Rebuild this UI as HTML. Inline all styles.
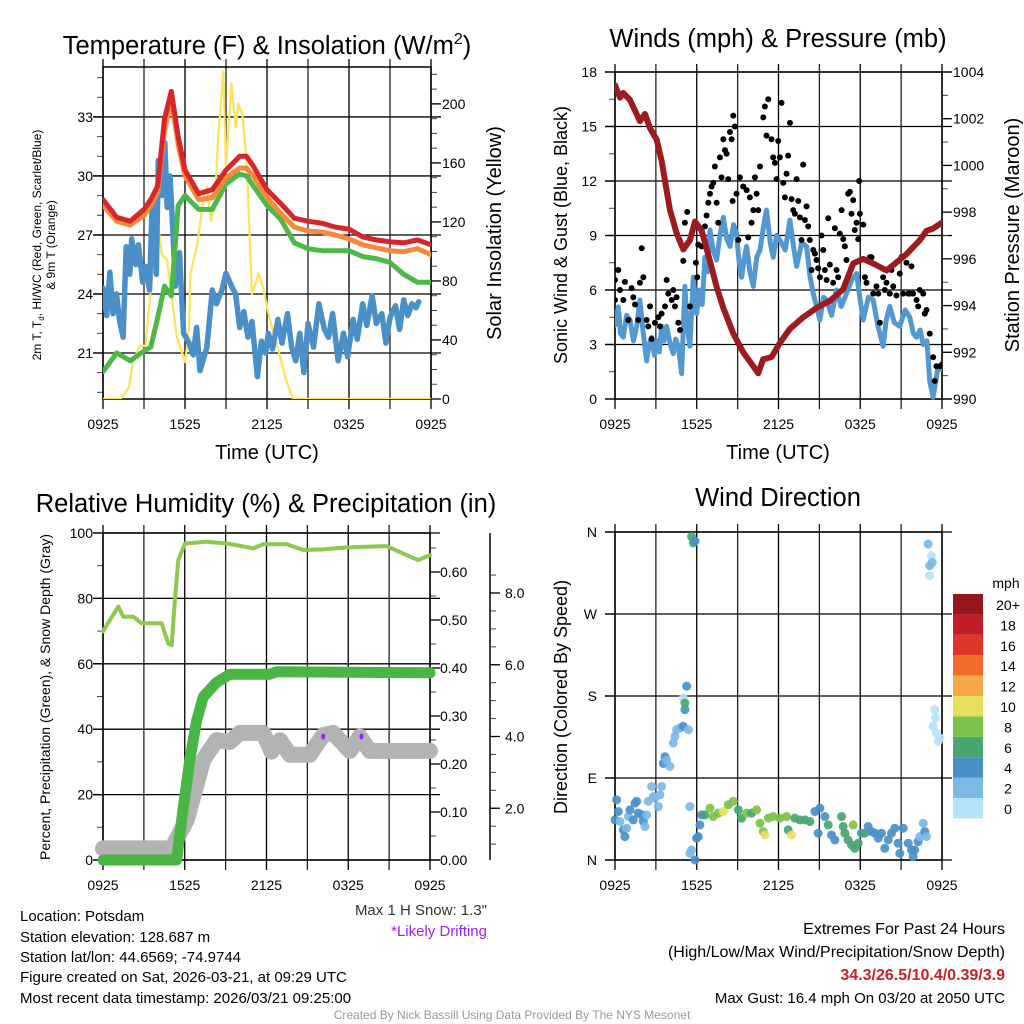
<!DOCTYPE html>
<html><head><meta charset="utf-8">
<style>
html,body{margin:0;padding:0;background:#fff;}
svg{display:block;font-family:"Liberation Sans",Arial,sans-serif;}
</style></head>
<body>
<svg id="chart" width="1024" height="1024" viewBox="0 0 1024 1024">
<g id="g1"></g>
<g id="g2"></g>
<g id="g3"></g>
<g id="g4"></g>
<g font-size="25.5" text-anchor="middle" fill="#000">
<text x="267" y="54">Temperature (F) &amp; Insolation (W/m<tspan font-size="16" dy="-10">2</tspan><tspan dy="10">)</tspan></text>
<text x="778" y="47">Winds (mph) &amp; Pressure (mb)</text>
<text x="266" y="512">Relative Humidity (%) &amp; Precipitation (in)</text>
<text x="778" y="506">Wind Direction</text>
</g>
<g font-size="20" text-anchor="middle">
<text x="267" y="459">Time (UTC)</text>
<text x="778" y="459">Time (UTC)</text>
<text transform="translate(501,233) rotate(-90)">Solar Insolation (Yellow)</text>
<text transform="translate(1019,235) rotate(-90)">Station Pressure (Maroon)</text>
<text transform="translate(567,235) rotate(-90)" font-size="18">Sonic Wind &amp; Gust (Blue, Black)</text>
<text transform="translate(567,697) rotate(-90)" font-size="18">Direction (Colored By Speed)</text>
<text transform="translate(50,697) rotate(-90)" font-size="14">Percent, Precipitation (Green), &amp; Snow Depth (Gray)</text>
<text transform="translate(41,245) rotate(-90)" font-size="12">2m T, T<tspan font-size="8" dy="3">d</tspan><tspan dy="-3">, HI/WC (Red, Green, Scarlet/Blue)</tspan></text>
<text transform="translate(55,245) rotate(-90)" font-size="12">&amp; 9m T (Orange)</text>
</g>
<g font-size="15" fill="#000">
<text x="20" y="921">Location: Potsdam</text>
<text x="20" y="942">Station elevation: 128.687 m</text>
<text x="20" y="962">Station lat/lon: 44.6569; -74.9744</text>
<text x="20" y="982">Figure created on Sat, 2026-03-21, at 09:29 UTC</text>
<text x="20" y="1003">Most recent data timestamp: 2026/03/21 09:25:00</text>
</g>
<text x="487" y="915" font-size="15" text-anchor="end" fill="#333">Max 1 H Snow: 1.3"</text>
<text x="487" y="936" font-size="15" text-anchor="end" fill="#a020f0">*Likely Drifting</text>
<g font-size="16" text-anchor="end">
<text x="1005" y="934">Extremes For Past 24 Hours</text>
<text x="1005" y="957">(High/Low/Max Wind/Precipitation/Snow Depth)</text>
<text x="1005" y="980" fill="#cc1f26" font-weight="bold">34.3/26.5/10.4/0.39/3.9</text>
<text x="1005" y="1003" font-size="15">Max Gust: 16.4 mph On 03/20 at 2050 UTC</text>
</g>
<text x="512" y="1019" font-size="12" text-anchor="middle" fill="#999">Created By Nick Bassill Using Data Provided By The NYS Mesonet</text>
</svg>
<script>
// ---- Data: panel 1 (temperature) ----
const T1 = [0,1,2,3,3.5,4,4.5,5,5.5,6,7,8,9,10,10.5,11,12,13,14,15,16,17,18,19,20,21,22,23,24];
const redT = [28.8,27.9,27.7,28.3,28.8,29.5,32.9,34.3,32.0,30.3,29.1,29.3,30.3,31.0,31.0,30.5,29.3,28.6,27.85,27.7,27.6,27.4,27.3,26.9,26.75,26.65,26.6,26.75,26.5];
const orangeT = [28.5,27.7,27.5,28.0,28.5,29.2,32.3,33.9,31.6,30.0,28.8,28.9,29.9,30.4,30.4,30.0,28.9,28.1,27.4,27.2,27.15,27.0,26.8,26.5,26.35,26.2,26.15,26.3,26.0];
const greenT = [20.05,21.0,20.6,21.1,21.3,22.8,24.4,23.9,28.5,29.0,28.3,28.3,29.6,30.1,30.0,29.5,28.5,27.8,26.6,26.3,26.2,26.2,26.2,25.9,25.8,25.6,25.0,24.6,24.6];
const blueTimes = [0,0.27,0.5,0.73,0.98,1.22,1.47,1.7,1.95,2.1,2.4,2.6,2.9,3.1,3.4,3.6,3.9,4.05,4.3,4.52,4.7,4.9,5.1,5.3,5.6,5.9,6.3,6.6,6.85,7.1,7.6,8.0,8.3,8.7,9.0,9.4,9.7,10.0,10.3,10.6,10.9,11.3,11.6,11.9,12.1,12.4,12.8,13.1,13.5,13.8,14.1,14.4,14.7,15.0,15.4,15.8,16.2,16.5,16.8,17.2,17.6,17.9,18.3,18.6,19.0,19.3,19.7,20.0,20.4,20.7,21.0,21.4,21.7,22.0,22.3,22.6,22.9,23.1];
const blueV = [24.3,22.9,25.1,23.0,24.0,22.6,21.8,26.4,25.0,26.8,25.5,26.5,24.6,25.4,24.2,28.6,25.0,30.8,29.0,31.7,28.4,30.0,27.4,24.4,26.1,22.0,21.5,20.9,22.3,20.1,21.3,24.2,23.5,24.2,25.05,24.4,24.0,22.3,23.1,21.8,22.6,19.8,21.6,21.0,22.0,21.2,22.7,21.5,23.0,21.3,20.6,22.0,20.0,22.5,21.3,23.5,22.2,21.8,23.0,20.6,22.0,20.8,22.7,21.7,23.5,22.4,23.9,22.5,23.0,21.5,22.8,23.4,22.2,23.7,22.9,23.5,23.3,23.6];
const solarT = [0,1.3,1.9,2.2,2.7,3.1,3.4,4.0,4.3,4.7,5.0,5.4,6.0,6.3,6.4,6.9,7.4,7.6,7.9,8.2,8.4,8.8,9.0,9.4,9.7,9.9,10.2,10.5,10.9,11.4,11.7,12.1,12.5,12.9,13.4,13.9,14.4,24];
const solarV = [0,0,8,26,36,36,65,121,98,94,71,42,25,49,85,105,139,144,121,135,173,222,157,214,184,200,193,162,71,85,76,58,44,31,13,0,0,0];
// ---- Data: panel 2 (wind & pressure) ----
const gustT = [0,0,0.24,0.37,0.61,0.73,0.98,1.22,1.47,1.34,1.83,1.96,2.08,1.71,2.32,2.44,2.57,2.69,2.93,3.18,3.3,3.42,3.67,3.79,3.91,4.16,4.28,4.4,4.65,4.52,4.77,5.01,5.13,5.3,5.5,5.94,6.04,6.11,6.36,6.6,6.72,6.85,6.97,7.09,7.21,7.33,7.46,7.58,7.7,7.82,7.95,8.07,8.19,8.31,8.44,8.56,8.68,8.63,8.8,8.92,9.17,9.05,9.41,9.66,9.78,9.9,10.15,10.02,10.27,10.39,10.51,10.64,10.88,11.0,11.12,11.25,11.49,11.61,11.74,11.86,11.98,12.1,12.22,12.35,12.47,12.59,12.71,12.84,12.96,13.08,13.2,13.33,13.45,13.57,13.69,13.81,13.94,14.06,14.18,14.3,14.43,14.55,14.67,14.79,14.91,15.04,15.16,15.28,15.4,15.53,15.65,15.77,16.01,16.14,16.26,16.38,16.5,16.63,16.75,16.87,16.99,17.11,17.24,17.36,17.48,17.6,17.73,17.85,17.92,17.97,18.22,18.34,18.46,18.7,18.83,18.95,19.19,19.32,19.44,19.68,19.8,19.93,20.17,20.29,20.42,20.66,20.9,21.03,21.15,21.39,21.52,21.64,21.76,21.88,22.13,22.25,22.37,22.62,22.74,22.86,23.1,23.35,23.47,23.59,23.84,24.0];
const gustV = [6.55,5.45,7.1,6.0,5.45,6.45,4.35,6.1,5.2,5.6,6.4,8.3,6.7,4.35,4.35,4.0,5.1,3.3,4.2,4.5,4.0,4.7,5.1,6.55,5.8,5.45,6.0,5.1,4.2,5.6,3.8,7.6,9.7,10.3,5.1,7.5,6.7,8.5,8.4,9.5,10.1,10.8,11.3,11.7,11.9,12.8,10.8,9.7,13.3,12.2,14.3,13.7,13.5,12.1,14.7,14.3,15.6,10.9,15.0,11.3,12.2,8.75,11.7,11.5,8.9,11.1,10.4,9.7,12.2,11.3,10.4,12.8,15.5,16.1,14.5,16.5,14.3,13.3,13.0,12.1,14.2,13.3,16.3,11.9,11.1,12.4,13.4,15.2,11.0,10.4,10.2,12.1,10.9,10.0,8.75,12.9,9.85,10.6,9.5,8.75,7.1,8.2,8.0,7.65,7.2,6.7,9.0,8.2,7.1,6.55,9.95,7.4,6.4,9.4,7.1,6.7,9.1,10.4,8.8,8.4,7.65,11.3,11.4,10.2,10.95,9.3,9.7,8.8,12.0,10.2,9.6,6.7,6.4,7.8,7.8,5.8,6.2,5.8,4.2,6.7,6.0,6.4,5.8,7.1,6.2,5.7,6.9,7.8,5.8,7.5,5.8,5.8,7.3,5.8,5.45,5.1,6.0,5.8,4.7,4.9,3.6,2.3,1.0,1.8,1.8,1.9];
const windT = [0,0.24,0.4,0.61,0.85,1.1,1.35,1.59,1.83,2.05,2.32,2.5,2.69,2.9,3.06,3.25,3.42,3.6,3.79,4.05,4.28,4.45,4.65,4.89,5.13,5.3,5.5,5.75,5.99,6.23,6.4,6.6,6.8,6.97,7.2,7.46,7.7,7.95,8.2,8.44,8.7,8.92,9.1,9.29,9.5,9.66,9.9,10.15,10.4,10.64,10.9,11.12,11.4,11.61,11.85,12.1,12.5,12.84,13.1,13.33,13.7,14.06,14.3,14.55,14.8,15.04,15.3,15.53,15.9,16.26,16.6,16.99,17.4,17.73,18.0,18.22,18.6,18.95,19.3,19.68,19.9,20.17,20.5,20.9,21.3,21.64,21.9,22.13,22.4,22.62,22.9,23.1,23.35,23.72,24.0];
const windV = [4.07,5.07,3.6,3.4,4.6,4.35,3.2,4.0,5.45,3.8,2.1,3.0,3.4,2.4,3.2,2.6,4.0,3.2,4.0,3.0,2.5,3.3,2.9,1.4,6.2,4.0,2.9,6.7,4.7,6.0,5.2,7.8,7.0,9.3,8.2,7.65,9.0,10.0,8.8,8.4,9.6,9.1,7.6,6.7,7.8,8.4,7.0,6.2,7.8,8.2,9.5,10.4,8.6,7.8,9.0,8.75,8.2,9.85,8.4,7.3,8.6,8.4,6.8,5.8,5.1,4.35,5.6,5.45,4.6,6.0,5.1,5.8,6.6,6.9,5.4,4.35,5.6,5.45,4.0,2.9,4.3,5.1,4.2,4.0,4.9,4.5,3.6,3.4,3.8,3.0,3.2,1.0,0.1,1.8,1.6];
const presT = [0,0.37,0.61,1.1,1.83,2.2,2.57,3.06,3.42,4.03,4.52,5.01,5.5,5.87,6.36,6.97,7.46,7.95,8.68,9.41,10.15,10.51,10.88,11.49,12.1,12.84,13.81,14.79,15.77,16.75,17.48,18.22,18.95,19.93,20.66,21.39,22.37,22.86,23.35,24];
const presV = [1003.44,1002.9,1003.1,1002.8,1001.9,1002.2,1001.6,1001.1,1000.2,998.1,997.1,996.4,996.8,997.6,997.2,995.9,994.8,993.9,992.8,992.0,991.4,991.1,991.7,991.8,992.4,993.0,993.5,993.9,994.2,994.7,995.8,996.0,995.8,995.5,995.85,996.2,996.8,997.2,997.3,997.55];
// ---- Data: panel 3 (humidity, precip, snow) ----
const rhT = [0,0.51,1.12,1.49,2.22,2.84,4.3,4.79,5.04,5.28,5.53,6.01,7.6,9.07,9.8,11.03,11.76,13.47,14.69,16.16,17.87,20.8,22.03,23.13,24];
const rhV = [69.9,73.4,77.5,74.4,74.4,72.4,72.4,66.2,65.7,79.5,91.7,96.8,97.3,96.8,96.3,95.3,96.6,96.6,94.8,95.0,95.6,96.0,93.7,91.7,93.2];
const precipT = [0,5.4,5.89,6.38,6.87,7.36,8.34,9.32,12.25,12.74,24];
const precipV = [0,0,0.11,0.21,0.29,0.34,0.37,0.387,0.387,0.392,0.39];
const snowT = [0,5.04,6.14,7.36,8.34,9.32,10.05,11.76,12.37,12.98,13.72,15.18,16.16,16.89,18.12,18.85,19.58,24];
const snowV = [0.88,0.88,1.67,3.35,3.9,3.85,4.1,4.1,3.58,3.9,3.49,3.49,4.04,4.1,3.6,4.0,3.6,3.6];
const driftT = [16.16,18.97];
const driftV = [4.0,4.0];
// ---- Data: panel 4 (wind direction) ----
const dirT = [0,0.12,0.24,0.37,0.61,0.73,0.86,0.98,1.1,1.34,1.47,1.59,1.71,1.96,2.08,2.2,2.32,2.44,2.69,2.81,2.93,3.18,3.3,3.42,3.55,3.67,3.79,4.03,4.28,4.4,4.52,4.77,5.01,5.13,5.01,5.13,5.26,5.38,5.5,5.5,5.62,5.87,5.99,6.11,6.23,5.62,5.75,5.87,6.36,6.6,6.97,7.21,7.58,7.95,8.31,8.68,9.05,9.29,9.66,10.02,10.39,10.64,10.88,11.0,11.25,11.61,12.1,12.59,12.71,12.96,13.2,13.57,13.94,14.3,14.67,14.91,15.04,15.4,15.65,15.89,16.14,16.63,16.75,16.87,17.11,17.36,17.48,17.6,17.85,18.09,18.34,18.58,18.83,19.07,19.32,19.56,19.8,20.05,20.29,20.54,20.78,20.9,21.15,21.52,21.76,21.88,22.0,22.25,22.37,22.62,22.74,22.86,22.98,23.1,23.23,23.28,23.1,23.47,23.52,23.35,23.59,23.84,23.72];
const dirV = [44,66,53.2,42.2,33,25.7,34.9,47.7,55,44,62.4,64.4,51.4,49.5,42.2,36.7,49.5,64.4,80.7,69.7,67.9,58.7,71.6,80.7,106,113.3,109.6,102.8,128.4,135.7,143,144.9,146.7,165,177.8,172.3,190.8,143,58.7,7.3,11,0,23.9,25.7,38.5,355,348,350,49.5,49.5,56.9,47.7,51.4,53.2,60.6,64.4,55,45.9,51.4,51.4,55,40.4,31.2,27.5,45.9,47.7,45.9,47.7,33,27.5,45.9,44,44,42.2,53.2,29.4,56.9,47.7,38.5,27.5,22,47.7,36.7,29.4,22,16.5,38.5,12.8,18.4,29.4,29.4,36.7,31.2,29.4,23.9,29.4,12.8,22,29.4,34.9,18.4,7.3,34.9,18.4,11,3.7,11,20.2,25.7,40.4,31.2,25.7,346.7,323,333.9,326.6,312,165,155.9,146.7,139.4,133.9,130.2];
const dirS = [5,5,5,3,5,5,3,3,5,5,5,5,5,5,5,3,3,3,3,3,3,3,3,3,5,5,3,3,3,3,3,3,5,5,1,7,5,3,3,3,3,5,5,5,5,7,7,5,5,7,9,9,9,11,9,9,7,7,9,7,9,9,9,11,9,9,9,9,7,11,7,7,7,7,5,5,5,5,7,5,5,7,7,7,7,7,9,7,7,5,7,5,5,5,5,5,5,5,5,5,5,5,5,5,5,5,5,5,3,3,5,3,3,3,1,3,1,1,1,1,1,1,1];
const speedBins = [0,2,4,6,8,10,12,14,16,18,20];
const binColors = ['#b5e3f8','#7cb9e6','#4a8fc7','#48a570','#7cc24a','#e8e05c','#f7a94a','#f26a2c','#e0352b','#c01e27','#96161b'];
const binLabels = ['0','2','4','6','8','10','12','14','16','18','20+'];
const xLabels = ['0925','1525','2125','0325','0925'];

const NS='http://www.w3.org/2000/svg';
function mk(parent,tag,attrs){const e=document.createElementNS(NS,tag);for(const k in attrs)e.setAttribute(k,attrs[k]);parent.appendChild(e);return e;}
function scale(d0,d1,r0,r1){return v=>r0+(v-d0)*(r1-r0)/(d1-d0);}
function pathD(xs,ys,sx,sy){return xs.map((t,i)=>(i?'L':'M')+sx(t).toFixed(1)+','+sy(ys[i]).toFixed(1)).join('');}
function frame(g,P,sx){
  for(let h=0;h<=24;h+=3){const x=sx(h);
    const l=mk(g,'line',{x1:x,y1:P.y0-8,x2:x,y2:P.y1+10,stroke:(h%6==0)?'#000':'#222','stroke-width':1.3});
    }
  for(let i=0;i<5;i++){const t=mk(g,'text',{x:sx(i*6),y:P.y1+30,'font-size':14,'text-anchor':'middle'});t.textContent=xLabels[i];
    }
  const r=mk(g,'rect',{x:P.x0,y:P.y0,width:P.x1-P.x0,height:P.y1-P.y0,fill:'none',stroke:'#000','stroke-width':1.5});
  
}
function yAxis(g,P,sy,ticks,labels,minor,side,lx,grid){
  const xa=side=='left'?P.x0:P.x1;const dir=side=='left'?-1:1;
  minor.forEach(v=>{mk(g,'line',{x1:xa,y1:sy(v),x2:xa+dir*6,y2:sy(v),stroke:'#444','stroke-width':1});});
  ticks.forEach((v,i)=>{const y=sy(v);
    if(grid) mk(g,'line',{x1:P.x0-10,y1:y,x2:P.x1+10,y2:y,stroke:'#000','stroke-width':1.3});
    mk(g,'line',{x1:xa,y1:y,x2:xa+dir*10,y2:y,stroke:'#000','stroke-width':1.3});
    const t=mk(g,'text',{x:lx,y:y+5,'font-size':14,'text-anchor':side=='left'?'end':'start'});t.textContent=labels[i];
    });
}
function range(a,b,s){const r=[];for(let v=a;v<=b+1e-9;v+=s)r.push(+v.toFixed(4));return r;}

// ---- Panel 1 ----
(function(){
const g=document.getElementById('g1');const P={x0:103,x1:431,y0:67,y1:399};
const sx=scale(0,24,P.x0,P.x1), sy=scale(18.66,35.54,P.y1,P.y0), sr=scale(0,225,P.y1,P.y0);
yAxis(g,P,sy,[21,24,27,30,33],['21','24','27','30','33'],range(19,35,1),'left',93,true);
yAxis(g,P,sr,range(0,200,40),range(0,200,40).map(String),range(0,220,10),'right',442,false);
frame(g,P,sx);
const clip=mk(g,'clipPath',{id:'c1'});mk(clip,'rect',{x:P.x0,y:P.y0,width:P.x1-P.x0,height:P.y1-P.y0});
const d=mk(g,'g',{'clip-path':'url(#c1)'});
let e;
e=mk(d,'path',{d:pathD(solarT,solarV,sx,sr),fill:'none',stroke:'#fde35a','stroke-width':2.2,'stroke-linejoin':'round'});

e=mk(d,'path',{d:pathD(blueTimes,blueV,sx,sy),fill:'none',stroke:'#4a8fc7','stroke-width':5.5,'stroke-linejoin':'round','stroke-linecap':'round'});

e=mk(d,'path',{d:pathD(T1,greenT,sx,sy),fill:'none',stroke:'#4cb848','stroke-width':5,'stroke-linejoin':'round','stroke-linecap':'round'});

e=mk(d,'path',{d:pathD(T1,orangeT,sx,sy),fill:'none',stroke:'#f58b3a','stroke-width':5,'stroke-linejoin':'round','stroke-linecap':'round'});

e=mk(d,'path',{d:pathD(T1,redT,sx,sy),fill:'none',stroke:'#d7262b','stroke-width':5,'stroke-linejoin':'round','stroke-linecap':'round'});

})();

// ---- Panel 2 ----
(function(){
const g=document.getElementById('g2');const P={x0:615,x1:942,y0:72,y1:399};
const sx=scale(0,24,P.x0,P.x1), sy=scale(0,18,P.y1,P.y0), sp=scale(990,1004,P.y1,P.y0);
yAxis(g,P,sy,range(0,18,3),range(0,18,3).map(String),range(0,18,1.5),'left',597,true);
yAxis(g,P,sp,range(990,1004,2),range(990,1004,2).map(String),range(990,1004,1),'right',953,false);
frame(g,P,sx);
const clip=mk(g,'clipPath',{id:'c2'});mk(clip,'rect',{x:P.x0,y:P.y0,width:P.x1-P.x0,height:P.y1-P.y0+4});
const d=mk(g,'g',{'clip-path':'url(#c2)'});
let e=mk(d,'path',{d:pathD(windT,windV,sx,sy),fill:'none',stroke:'#5498d2','stroke-width':5,'stroke-linejoin':'round','stroke-linecap':'round'});

gustT.forEach((t,i)=>{const c=mk(d,'circle',{cx:sx(t),cy:sy(gustV[i]),r:3,fill:'#000'});
  
  });
e=mk(d,'path',{d:pathD(presT,presV,sx,sp),fill:'none',stroke:'#9c1b1f','stroke-width':6,'stroke-linejoin':'round','stroke-linecap':'round'});

})();

// ---- Panel 3 ----
(function(){
const g=document.getElementById('g3');const P={x0:103,x1:430,y0:533,y1:860};
const sx=scale(0,24,P.x0,P.x1), sy=scale(0,100,P.y1,P.y0), sq=scale(0,0.68125,P.y1,P.y0), ss=scale(0,8,880,593);
yAxis(g,P,sy,range(0,100,20),range(0,100,20).map(String),range(0,100,10),'left',93,true);
yAxis(g,P,sq,range(0,0.6,0.1),range(0,0.6,0.1).map(v=>v.toFixed(2)),range(0,0.65,0.05),'right',440,false);
frame(g,P,sx);
mk(g,'line',{x1:490,y1:P.y0,x2:490,y2:P.y1,stroke:'#000','stroke-width':1.5});
range(0.5,8.5,0.5).forEach(v=>{const y=ss(v);if(y>=P.y0&&y<=P.y1)mk(g,'line',{x1:490,y1:y,x2:496,y2:y,stroke:'#444','stroke-width':1});});
[2,4,6,8].forEach(v=>{const y=ss(v);mk(g,'line',{x1:490,y1:y,x2:500,y2:y,stroke:'#000','stroke-width':1.3});
  const t=mk(g,'text',{x:505,y:y+5,'font-size':14});t.textContent=v.toFixed(1);
  });
const clip=mk(g,'clipPath',{id:'c3'});mk(clip,'rect',{x:P.x0-12,y:P.y0,width:P.x1-P.x0+24,height:P.y1-P.y0+12});
const d=mk(g,'g',{'clip-path':'url(#c3)'});
let e=mk(d,'path',{d:pathD(snowT,snowV,sx,ss),fill:'none',stroke:'#b3b3b3','stroke-width':16,'stroke-linejoin':'round','stroke-linecap':'round'});

driftT.forEach((t,i)=>{const c=mk(d,'ellipse',{cx:sx(t),cy:ss(driftV[i]),rx:2,ry:3,fill:'#a020f0'});
  
  });
e=mk(d,'path',{d:pathD(precipT,precipV,sx,sq),fill:'none',stroke:'#48b545','stroke-width':11,'stroke-linejoin':'round','stroke-linecap':'round'});

e=mk(d,'path',{d:pathD(rhT,rhV,sx,sy),fill:'none',stroke:'#8cc94e','stroke-width':4,'stroke-linejoin':'round','stroke-linecap':'round'});

})();

// ---- Panel 4 ----
(function(){
const g=document.getElementById('g4');const P={x0:615,x1:942,y0:532,y1:860};
const sx=scale(0,24,P.x0,P.x1), sy=scale(0,360,P.y1,P.y0);
yAxis(g,P,sy,[0,90,180,270,360],['N','E','S','W','N'],[],'left',597,true);
frame(g,P,sx);
const d=mk(g,'g',{});
function col(s){let k=0;for(let i=0;i<speedBins.length;i++)if(s>=speedBins[i])k=i;return binColors[k];}
dirT.forEach((t,i)=>{const c=mk(d,'circle',{cx:sx(t),cy:sy(dirV[i]),r:4.5,fill:col(dirS[i]),'fill-opacity':0.92});
  
  });
const cb=mk(g,'g',{});
const t0=mk(cb,'text',{x:1006,y:588,'font-size':14,'text-anchor':'middle'});t0.textContent='mph';
for(let i=0;i<binColors.length;i++){const y=798-i*20.4;
  const r=mk(cb,'rect',{x:953,y:y,width:30,height:20.4,fill:binColors[i]});
  
  const t=mk(cb,'text',{x:1008,y:y+16,'font-size':14,'text-anchor':'middle'});t.textContent=binLabels[i];
  }
})();
</script>
</body></html>
